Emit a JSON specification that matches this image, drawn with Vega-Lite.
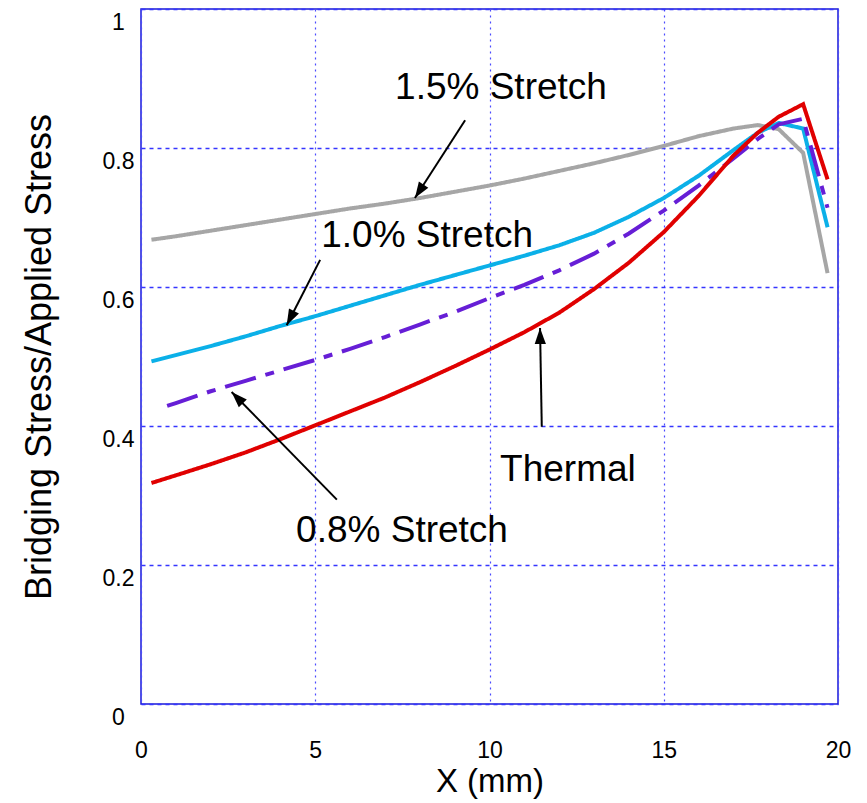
{
  "$schema": "https://vega.github.io/schema/vega-lite/v6.json",
  "width": 697,
  "height": 695,
  "autosize": "none",
  "padding": {"left": 141, "top": 9, "right": 29, "bottom": 99},
  "background": "white",
  "config": {
    "font": "Liberation Sans",
    "view": {"stroke": "#1a1ad8", "strokeWidth": 1.5},
    "axis": {"labelColor": "black", "titleColor": "black", "titleFontWeight": "normal"}
  },
  "datasets": {
    "curves": [
      {"s": "1.5%", "x": 0.3, "y": 0.668}, {"s": "1.5%", "x": 1, "y": 0.673}, {"s": "1.5%", "x": 2, "y": 0.681}, {"s": "1.5%", "x": 3, "y": 0.689}, {"s": "1.5%", "x": 4, "y": 0.697}, {"s": "1.5%", "x": 5, "y": 0.705}, {"s": "1.5%", "x": 6, "y": 0.713}, {"s": "1.5%", "x": 7, "y": 0.720}, {"s": "1.5%", "x": 8, "y": 0.728}, {"s": "1.5%", "x": 9, "y": 0.737}, {"s": "1.5%", "x": 10, "y": 0.746}, {"s": "1.5%", "x": 11, "y": 0.756}, {"s": "1.5%", "x": 12, "y": 0.767}, {"s": "1.5%", "x": 13, "y": 0.778}, {"s": "1.5%", "x": 14, "y": 0.790}, {"s": "1.5%", "x": 15, "y": 0.803}, {"s": "1.5%", "x": 16, "y": 0.817}, {"s": "1.5%", "x": 17, "y": 0.828}, {"s": "1.5%", "x": 17.7, "y": 0.833}, {"s": "1.5%", "x": 18.3, "y": 0.827}, {"s": "1.5%", "x": 19.0, "y": 0.793}, {"s": "1.5%", "x": 19.7, "y": 0.620},
      {"s": "1.0%", "x": 0.3, "y": 0.493}, {"s": "1.0%", "x": 1, "y": 0.502}, {"s": "1.0%", "x": 2, "y": 0.515}, {"s": "1.0%", "x": 3, "y": 0.529}, {"s": "1.0%", "x": 4, "y": 0.544}, {"s": "1.0%", "x": 5, "y": 0.558}, {"s": "1.0%", "x": 6, "y": 0.573}, {"s": "1.0%", "x": 7, "y": 0.588}, {"s": "1.0%", "x": 8, "y": 0.603}, {"s": "1.0%", "x": 9, "y": 0.617}, {"s": "1.0%", "x": 10, "y": 0.631}, {"s": "1.0%", "x": 11, "y": 0.645}, {"s": "1.0%", "x": 12, "y": 0.660}, {"s": "1.0%", "x": 13, "y": 0.678}, {"s": "1.0%", "x": 14, "y": 0.701}, {"s": "1.0%", "x": 15, "y": 0.728}, {"s": "1.0%", "x": 16, "y": 0.760}, {"s": "1.0%", "x": 17, "y": 0.797}, {"s": "1.0%", "x": 17.7, "y": 0.822}, {"s": "1.0%", "x": 18.3, "y": 0.836}, {"s": "1.0%", "x": 19.0, "y": 0.828}, {"s": "1.0%", "x": 19.7, "y": 0.686},
      {"s": "0.8%", "x": 0.75, "y": 0.429}, {"s": "0.8%", "x": 1, "y": 0.433}, {"s": "0.8%", "x": 2, "y": 0.450}, {"s": "0.8%", "x": 3, "y": 0.465}, {"s": "0.8%", "x": 4, "y": 0.480}, {"s": "0.8%", "x": 5, "y": 0.495}, {"s": "0.8%", "x": 6, "y": 0.511}, {"s": "0.8%", "x": 7, "y": 0.528}, {"s": "0.8%", "x": 8, "y": 0.546}, {"s": "0.8%", "x": 9, "y": 0.564}, {"s": "0.8%", "x": 10, "y": 0.584}, {"s": "0.8%", "x": 11, "y": 0.603}, {"s": "0.8%", "x": 12, "y": 0.624}, {"s": "0.8%", "x": 13, "y": 0.648}, {"s": "0.8%", "x": 14, "y": 0.677}, {"s": "0.8%", "x": 15, "y": 0.710}, {"s": "0.8%", "x": 16, "y": 0.746}, {"s": "0.8%", "x": 17, "y": 0.785}, {"s": "0.8%", "x": 17.7, "y": 0.813}, {"s": "0.8%", "x": 18.3, "y": 0.834}, {"s": "0.8%", "x": 19.0, "y": 0.842}, {"s": "0.8%", "x": 19.7, "y": 0.714},
      {"s": "Thermal", "x": 0.3, "y": 0.318}, {"s": "Thermal", "x": 1, "y": 0.329}, {"s": "Thermal", "x": 2, "y": 0.345}, {"s": "Thermal", "x": 3, "y": 0.362}, {"s": "Thermal", "x": 4, "y": 0.381}, {"s": "Thermal", "x": 5, "y": 0.401}, {"s": "Thermal", "x": 6, "y": 0.421}, {"s": "Thermal", "x": 7, "y": 0.441}, {"s": "Thermal", "x": 8, "y": 0.463}, {"s": "Thermal", "x": 9, "y": 0.486}, {"s": "Thermal", "x": 10, "y": 0.510}, {"s": "Thermal", "x": 11, "y": 0.535}, {"s": "Thermal", "x": 12, "y": 0.563}, {"s": "Thermal", "x": 13, "y": 0.597}, {"s": "Thermal", "x": 14, "y": 0.635}, {"s": "Thermal", "x": 15, "y": 0.679}, {"s": "Thermal", "x": 16, "y": 0.731}, {"s": "Thermal", "x": 17, "y": 0.789}, {"s": "Thermal", "x": 17.7, "y": 0.822}, {"s": "Thermal", "x": 18.3, "y": 0.845}, {"s": "Thermal", "x": 19.0, "y": 0.863}, {"s": "Thermal", "x": 19.7, "y": 0.755}
    ],
    "labels": [
      {"text": "1.5% Stretch", "x": 10.33, "y": 0.886},
      {"text": "1.0% Stretch", "x": 8.21, "y": 0.673},
      {"text": "0.8% Stretch", "x": 7.49, "y": 0.249},
      {"text": "Thermal", "x": 12.25, "y": 0.337}
    ],
    "arrows": [
      {"s": "1.5%", "tx": 9.30, "ty": 0.840, "hx": 7.86, "hy": 0.728},
      {"s": "1.0%", "tx": 5.14, "ty": 0.639, "hx": 4.18, "hy": 0.545},
      {"s": "0.8%", "tx": 5.62, "ty": 0.294, "hx": 2.60, "hy": 0.449},
      {"s": "Thermal", "tx": 11.50, "ty": 0.399, "hx": 11.45, "hy": 0.541}
    ]
  },
  "layer": [
    {
      "data": {"name": "curves"},
      "mark": {"type": "line", "strokeWidth": 4, "clip": true},
      "encoding": {
        "x": {
          "field": "x", "type": "quantitative",
          "scale": {"domain": [0, 20], "nice": false, "zero": false},
          "axis": {
            "values": [0, 5, 10, 15, 20], "title": "X (mm)", "titleFontSize": 33, "titlePadding": 3,
            "labelFontSize": 23, "labelPadding": 35, "labelFlush": false, "labelOverlap": false,
            "ticks": false, "tickSize": 0, "domain": false,
            "grid": true, "gridColor": "#4a4aff", "gridDash": [2, 4], "gridWidth": 1.2, "gridOpacity": 1
          }
        },
        "y": {
          "field": "y", "type": "quantitative",
          "scale": {"domain": [0, 1], "nice": false},
          "axis": {
            "values": [0, 0.2, 0.4, 0.6, 0.8, 1], "format": "~g", "title": "Bridging Stress/Applied Stress",
            "titleFontSize": 36, "titlePadding": 44,
            "labelFontSize": 23, "labelPadding": 23, "labelAlign": "center", "labelBaseline": "top", "labelOffset": 2,
            "labelFlush": false, "labelOverlap": false,
            "ticks": false, "tickSize": 0, "domain": false,
            "grid": true, "gridColor": "#3535ff", "gridDash": [4, 4], "gridWidth": 1.5, "gridOpacity": 1
          }
        },
        "color": {
          "field": "s", "type": "nominal", "legend": null,
          "scale": {"domain": ["1.5%", "1.0%", "0.8%", "Thermal"], "range": ["#a6a6a6", "#0bb0e8", "#661ed6", "#e00000"]}
        },
        "strokeDash": {
          "field": "s", "type": "nominal", "legend": null,
          "scale": {"domain": ["1.5%", "1.0%", "0.8%", "Thermal"], "range": [[1, 0], [1, 0], [32, 10, 9, 10], [1, 0]]}
        }
      }
    },
    {
      "data": {"name": "arrows"},
      "mark": {"type": "rule", "strokeWidth": 2, "color": "black"},
      "encoding": {
        "x": {"field": "tx", "type": "quantitative"},
        "y": {"field": "ty", "type": "quantitative"},
        "x2": {"field": "hx"},
        "y2": {"field": "hy"}
      }
    },
    {
      "data": {"name": "arrows"},
      "mark": {
        "type": "point", "filled": true, "color": "black", "opacity": 1, "size": 256, "strokeWidth": 0,
        "shape": "M0,0 L-0.7,2 L0.7,2 Z",
        "angle": {"expr": "atan2(scale('x', datum.hx) - scale('x', datum.tx), scale('y', datum.ty) - scale('y', datum.hy)) * 180 / PI"}
      },
      "encoding": {
        "x": {"field": "hx", "type": "quantitative"},
        "y": {"field": "hy", "type": "quantitative"}
      }
    },
    {
      "data": {"name": "labels"},
      "mark": {"type": "text", "fontSize": 37, "color": "black", "align": "center", "baseline": "middle"},
      "encoding": {
        "x": {"field": "x", "type": "quantitative"},
        "y": {"field": "y", "type": "quantitative"},
        "text": {"field": "text"}
      }
    }
  ]
}
